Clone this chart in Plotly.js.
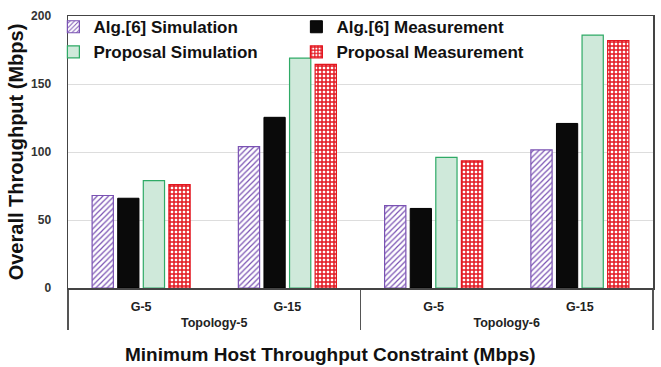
<!DOCTYPE html>
<html><head><meta charset="utf-8">
<script src="https://cdn.plot.ly/plotly-3.0.1.min.js"></script>
<style>html,body{margin:0;padding:0;background:#fff}</style>
</head><body><div id="chart" style="width:661px;height:367px"></div>
<script>
const topologies = ["Topology-5", "Topology-5", "Topology-6", "Topology-6"];
const groups = ["G-5", "G-15", "G-5", "G-15"];
const seriesNames = ["Alg.[6] Simulation", "Alg.[6] Measurement", "Proposal Simulation", "Proposal Measurement"];
const algSim = [68, 104, 60.5, 101.5];
const algMeas = [66, 125.5, 58.5, 121];
const propSim = [79, 169, 96, 186];
const propMeas = [76, 164.5, 93.5, 182];
const yTicks = [0, 50, 100, 150, 200];
const xTitle = "Minimum Host Throughput Constraint (Mbps)";
const yTitle = "Overall Throughput (Mbps)";

const x = [topologies, groups];
const font = "Liberation Sans, Arial, sans-serif";
const traces = [
  {type: "bar", name: seriesNames[0], x: x, y: algSim,
   marker: {color: "#ffffff", line: {color: "#7a52b3", width: 1.2},
            pattern: {shape: "/", fgcolor: "#7a52b3", bgcolor: "#ffffff", size: 4, solidity: 0.3}}},
  {type: "bar", name: seriesNames[1], x: x, y: algMeas,
   marker: {color: "#0a0a0a", line: {color: "#000000", width: 1}}},
  {type: "bar", name: seriesNames[2], x: x, y: propSim,
   marker: {color: "#d9efe3", line: {color: "#2faa66", width: 1.2},
            pattern: {shape: ".", fgcolor: "#b5dcc6", bgcolor: "#e4f4eb", size: 2, solidity: 0.5}}},
  {type: "bar", name: seriesNames[3], x: x, y: propMeas,
   marker: {color: "#ffffff", line: {color: "#e3161f", width: 1.2},
            pattern: {shape: "+", fgcolor: "#e3161f", bgcolor: "#ffffff", size: 4, solidity: 0.6}}}
];
const layout = {
  width: 661, height: 367,
  margin: {l: 68, r: 8, t: 16, b: 79},
  paper_bgcolor: "#ffffff", plot_bgcolor: "#ffffff",
  font: {family: font, color: "#222"},
  barmode: "group", bargap: 0.3, bargroupgap: 0.17,
  showlegend: true,
  legend: {orientation: "h", x: -0.025, xanchor: "left", y: 1.025, yanchor: "top",
           entrywidth: 198, entrywidthmode: "pixels",
           font: {family: font, size: 17, color: "#111", weight: "bold"},
           bgcolor: "rgba(0,0,0,0)", tracegroupgap: 0, itemwidth: 30},
  xaxis: {type: "multicategory", showline: true, mirror: true, linecolor: "#444", linewidth: 1.5,
          showdividers: true, dividercolor: "#555", dividerwidth: 1.5,
          tickson: "labels", ticks: "outside", ticklen: 6, tickcolor: "rgba(0,0,0,0)",
          tickfont: {family: font, size: 12.5, color: "#222", weight: "bold"}},
  yaxis: {range: [0, 200], tickvals: yTicks, ticktext: yTicks.map(String),
          showline: true, mirror: true, linecolor: "#444", linewidth: 1.5,
          showgrid: true, gridcolor: "#dddddd", zeroline: false, ticks: "",
          ticklabelstandoff: 13,
          tickfont: {family: font, size: 12, color: "#333", weight: "bold"},
          title: {text: yTitle, standoff: 2,
                  font: {family: font, size: 20, color: "#111", weight: "bold"}}},
  annotations: [{text: xTitle, xref: "paper", yref: "paper", x: 0.448, y: -0.2,
                 xanchor: "center", yanchor: "top", yshift: 0, showarrow: false,
                 font: {family: font, size: 19, color: "#111", weight: "bold"}}]
};
Plotly.newPlot("chart", traces, layout, {displayModeBar: false, staticPlot: true});
</script></body></html>
